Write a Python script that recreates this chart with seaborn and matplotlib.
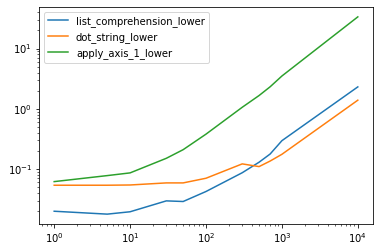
import numpy as np
import pandas as pd
import matplotlib
matplotlib.use("Agg")
import matplotlib.pyplot as plt
import seaborn as sns

# taille des entrées et temps mesurés (s)
n_rows = [1, 5, 10, 30, 50, 100, 300, 500, 700, 1000, 10000]
list_comprehension_lower = [0.020, 0.0179, 0.0196, 0.0297, 0.029, 0.0425,
                            0.087, 0.13, 0.178, 0.296, 2.31]
dot_string_lower = [0.054, 0.054, 0.0545, 0.059, 0.059, 0.0705,
                    0.122, 0.11, 0.136, 0.176, 1.39]
apply_axis_1_lower = [0.062, 0.078, 0.0865, 0.151, 0.21, 0.38,
                      1.06, 1.66, 2.32, 3.5, 33.5]

series = {
    "list_comprehension_lower": list_comprehension_lower,
    "dot_string_lower": dot_string_lower,
    "apply_axis_1_lower": apply_axis_1_lower,
}
colors = ["#1f77b4", "#ff7f0e", "#2ca02c"]

fig = plt.figure(figsize=(380 / 72, 252 / 72), dpi=72)
ax = fig.add_axes([39 / 380, 28 / 252, 334 / 380, 217 / 252])

for (name, vals), c in zip(series.items(), colors):
    df = pd.DataFrame({"n": n_rows, "t": vals})
    sns.lineplot(data=df, x="n", y="t", ax=ax, color=c, label=name,
                 linewidth=1.5)

ax.set_xscale("log")
ax.set_yscale("log")
ax.set_xlabel("")
ax.set_ylabel("")
ax.tick_params(labelsize=10)
ax.legend(loc="upper left", fontsize=10)

fig.savefig("out.png", dpi=72)
